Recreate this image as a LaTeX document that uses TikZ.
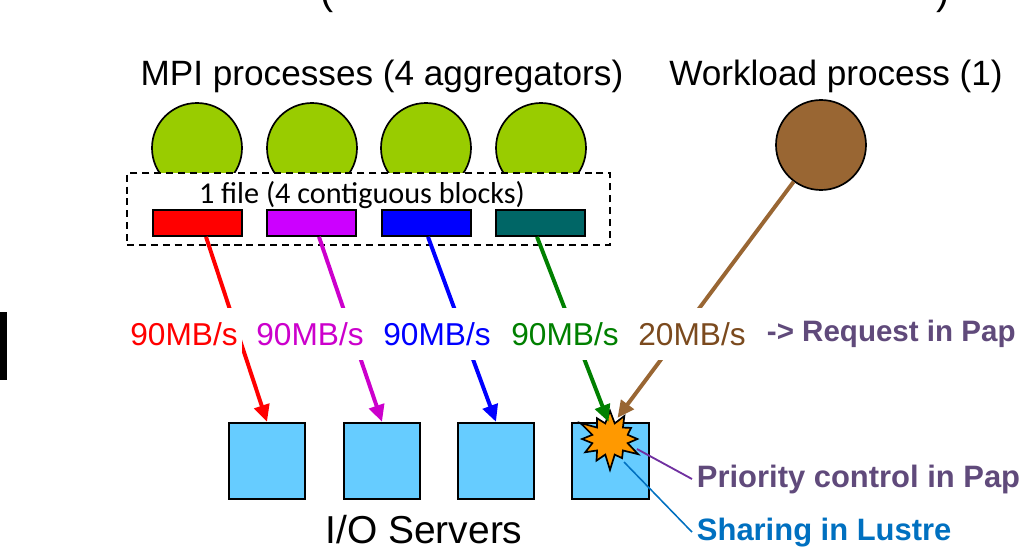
\documentclass[tikz,border=0pt]{standalone}
\usepackage{fontspec}
\setmainfont{Liberation Sans}
\newfontfamily\calibri{Carlito}
\usepackage{tikz}
\usetikzlibrary{arrows.meta}
\usetikzlibrary{positioning}
\usetikzlibrary{shapes.symbols}
\usetikzlibrary{calc}
\definecolor{procgreen}{HTML}{99CC00}
\definecolor{wlbrown}{HTML}{996633}
\definecolor{ratebrown}{HTML}{7B4A1E}
\definecolor{blkpurple}{HTML}{CC00FF}
\definecolor{arrpurple}{HTML}{CC00CC}
\definecolor{blkteal}{HTML}{006666}
\definecolor{arrgreen}{HTML}{008000}
\definecolor{srvblue}{HTML}{66CCFF}
\definecolor{burstorange}{HTML}{FF9900}
\definecolor{notepurple}{HTML}{604A7B}
\definecolor{linepurple}{HTML}{7030A0}
\definecolor{noteblue}{HTML}{0070C0}
\tikzstyle{proc}=[draw,circle,line width=1.2pt,minimum size=64pt,inner sep=0pt]
\tikzstyle{block}=[draw,line width=1.2pt,minimum width=63pt,minimum height=18.5pt,inner sep=0pt]

\begin{document}
\begin{tikzpicture}[
  x=0.025cm,y=-0.025cm,
  title/.style={anchor=base,font=\fontsize{25}{30}\selectfont},
  filebox/.style={draw,dashed,dash pattern=on 5pt off 3.5pt,line width=1.2pt,fill=white,minimum width=343.6pt,minimum height=51.2pt,inner sep=0pt},
  server/.style={draw,fill=srvblue,line width=1.2pt,minimum size=54.5pt,inner sep=0pt},
  flow/.style={line width=2.8pt,-{Triangle[length=12pt,width=11pt]}},
  rate/.style={fill=white,font=\fontsize{22.5}{26}\selectfont,minimum height=37pt,inner xsep=3pt},
  note/.style={anchor=base west,font=\bfseries\fontsize{22}{26}\selectfont},
  burst/.style={starburst,draw,fill=burstorange,line width=1.2pt,starburst points=12,starburst point height=12pt,minimum width=50pt,minimum height=47pt,inner sep=0pt},
]
\useasboundingbox (0,0) rectangle (1019,547);

% cut-off bits at the edges
\node[anchor=base,font=\fontsize{28}{32}\selectfont] (lpar) at (327,4) {(};
\node[anchor=base,font=\fontsize{28}{32}\selectfont] (rpar) at (943,4) {)};
\fill (0,312) rectangle (7,380);

% processes
\node[title] (mpi) at (382,85) {MPI processes (4 aggregators)};
\node[title] (wl) at (836,85) {Workload process (1)};
\node[proc,fill=procgreen] (p1) at (197,148) {};
\node[proc,fill=procgreen] (p2) at (312,148) {};
\node[proc,fill=procgreen] (p3) at (426,148) {};
\node[proc,fill=procgreen] (p4) at (541,148) {};
\node[proc,fill=wlbrown] (w) at (821,145) {};

% the file
\node[filebox] (file) at (368.5,209) {};
\node[anchor=base,font=\calibri\fontsize{21.5}{24}\selectfont] (ftxt) at (362,203) {1 file (4 contiguous blocks)};
\node[block,fill=red] (br) at (197.5,223) {};
\node[block,fill=blkpurple] (bp) at (311.5,223) {};
\node[block,fill=blue] (bb) at (426.5,223) {};
\node[block,fill=blkteal] (bt) at (540.5,223) {};

% I/O servers
\node[server] (s1) at (267,461) {};
\node[server] (s2) at (382,461) {};
\node[server] (s3) at (496,461) {};
\node[server] (s4) at (610.5,461) {};
\node[anchor=base,font=\fontsize{27.7}{32}\selectfont] (ios) at (424,543) {I/O Servers};
\node[burst] (hit) at (610,439) {};

% flows
\draw[flow,red] ($(br.south)+(8.5,0)$) -- (s1.north);
\draw[flow,arrpurple] ($(bp.south)+(7.5,0)$) -- (s2.north);
\draw[flow,blue] ($(bb.south)+(1.5,0)$) -- (s3.north);
\draw[flow,arrgreen] ($(bt.south)+(-3.5,0)$) -- ($(s4.north)+(-2,0)$);
\draw[flow,wlbrown] (w) -- ($(s4.north)+(7,-4)$);

\node[rate,text=red] (r1) at (184,334) {90MB/s};
\node[rate,text=arrpurple] (r2) at (310,334) {90MB/s};
\node[rate,text=blue] (r3) at (437,334) {90MB/s};
\node[rate,text=arrgreen] (r4) at (565,334) {90MB/s};
\node[rate,text=ratebrown] (r5) at (692,334) {20MB/s};
\node[anchor=west,font=\bfseries\fontsize{21}{24}\selectfont,text=notepurple] (req) at (762,334) {-> Request in Pap};

% notes
\node[note,text=notepurple] (prio) at (692,487) {Priority control in Pap};
\node[note,text=noteblue] (share) at (692,540) {Sharing in Lustre};
\draw[linepurple,line width=1.3pt] ($(hit.center)+(27,10)$) -- (prio.west);
\draw[noteblue,line width=1.1pt] ($(hit.center)+(14,23)$) -- (share.west);
\end{tikzpicture}
\end{document}
